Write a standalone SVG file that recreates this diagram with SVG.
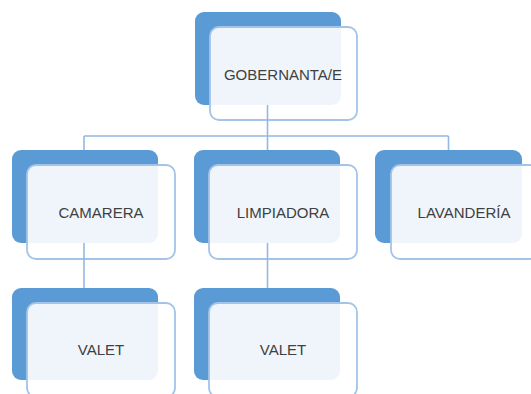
<svg xmlns="http://www.w3.org/2000/svg" width="531" height="394" viewBox="0 0 531 394">
<style>
.back{fill:#5b9bd5;}
.front{fill:#ffffff;fill-opacity:0.9;stroke:#a3c4e8;stroke-width:1.8;}
.lbl{font-family:"Liberation Sans",Arial,sans-serif;font-size:15px;fill:#404040;text-anchor:middle;dominant-baseline:central;}
.conn{stroke:#94b8e0;stroke-width:1.6;fill:none;}
</style>
<rect width="531" height="394" fill="#ffffff"/>
<g id="node-gobernanta">
<rect class="back" x="195" y="12" width="146" height="93" rx="9"/>
<rect class="front" x="210" y="27" width="147" height="93" rx="9"/>
<text class="lbl" x="283" y="74">GOBERNANTA/E</text>
</g>
<g id="node-camarera">
<rect class="back" x="12" y="150" width="146" height="93" rx="9"/>
<rect class="front" x="27" y="165" width="148" height="94" rx="9"/>
<text class="lbl" x="101" y="212">CAMARERA</text>
</g>
<g id="node-limpiadora">
<rect class="back" x="194" y="150" width="146" height="93" rx="9"/>
<rect class="front" x="209" y="165" width="148" height="94" rx="9"/>
<text class="lbl" x="283" y="212">LIMPIADORA</text>
</g>
<g id="node-lavanderia">
<rect class="back" x="375" y="150" width="147" height="93" rx="9"/>
<rect class="front" x="391" y="165" width="148" height="94" rx="9"/>
<text class="lbl" x="464" y="212">LAVANDERÍA</text>
</g>
<g id="node-valet1">
<rect class="back" x="12" y="288" width="146" height="92" rx="9"/>
<rect class="front" x="27" y="303" width="148" height="94" rx="9"/>
<text class="lbl" x="101" y="349">VALET</text>
</g>
<g id="node-valet2">
<rect class="back" x="194" y="288" width="146" height="92" rx="9"/>
<rect class="front" x="209" y="303" width="148" height="94" rx="9"/>
<text class="lbl" x="283" y="349">VALET</text>
</g>
<g id="connectors">
<path class="conn" d="M267.5 105V136M84 136H448.5M84 136V150M267.5 136V150M448.5 136V150"/>
<path class="conn" d="M84 243V288M267.5 243V288"/>
</g>
</svg>
